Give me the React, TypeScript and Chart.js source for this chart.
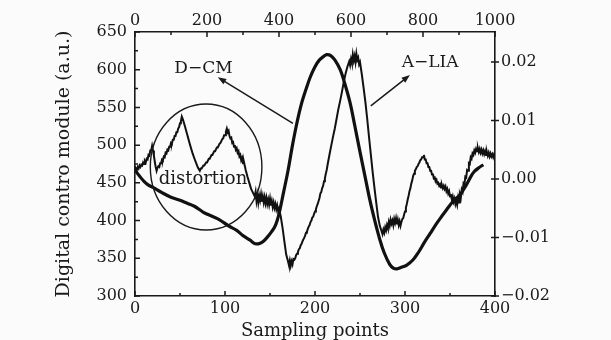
import React, { useEffect, useRef } from 'react';
import { Chart, registerables } from 'chart.js';
Chart.register(...registerables);

// D-CM (thick smooth curve), sampling points vs module value
const dcmSamples = [0, 5, 10, 15, 20, 30, 40, 50, 58, 66, 76, 85, 94, 104, 113, 120, 128, 132, 135, 139, 143, 147, 151, 155, 158, 161, 165, 170, 175, 180, 185, 190, 195, 200, 205, 210, 213, 217, 222, 228, 233, 239, 244, 250, 255, 261, 266, 272, 277, 283, 287, 291, 296, 302, 309, 315, 321, 328, 335, 341, 346, 353, 361, 368, 373, 377, 382, 387];
const dcmValues = [467, 459, 452, 447, 444, 437, 431, 427, 423, 419, 411, 406, 401, 393, 387, 380, 374, 370, 369, 370, 373, 378, 384, 391, 400, 414, 437, 466, 500, 530, 555, 574, 591, 604, 613, 618, 620, 619, 613, 600, 582, 556, 527, 491, 462, 427, 402, 375, 357, 342, 337, 336, 338, 341, 348, 358, 370, 383, 396, 406, 414, 425, 434, 447, 458, 465, 470, 474];

// A-LIA (thin noisy curve)
const liaSamples = [0, 1, 2, 3, 4, 5, 6, 7, 8, 9, 10, 11, 12, 13, 14, 15, 16, 17, 18, 19, 20, 21, 22, 23, 24, 25, 26, 27, 28, 29, 30, 31, 32, 33, 34, 35, 36, 37, 38, 39, 40, 41, 42, 43, 44, 45, 46, 47, 48, 49, 50, 51, 52, 53, 55, 58, 61, 64, 67, 70, 72, 73, 74, 76, 77, 79, 80, 82, 83, 85, 86, 88, 89, 91, 92, 94, 95, 97, 98, 99, 100, 101, 102, 103, 104, 105, 106, 107, 108, 109, 110, 111, 112, 113, 114, 115, 116, 117, 118, 119, 120, 121, 123, 125, 127, 129, 131, 133, 134, 135, 136, 137, 138, 139, 140, 141, 142, 143, 144, 145, 146, 147, 148, 149, 150, 151, 152, 153, 154, 155, 156, 157, 158, 159, 160, 162, 164, 166, 168, 170, 171, 172, 173, 174, 175, 176, 177, 178, 179, 180, 181, 182, 183, 184, 185, 186, 187, 188, 189, 190, 191, 192, 193, 194, 195, 196, 197, 198, 199, 200, 201, 202, 203, 204, 205, 206, 207, 208, 209, 210, 211, 212, 213, 214, 216, 218, 220, 222, 224, 226, 228, 230, 232, 234, 236, 238, 239, 240, 241, 242, 243, 244, 245, 246, 247, 248, 249, 250, 252, 254, 256, 258, 260, 262, 264, 266, 268, 270, 272, 274, 275, 276, 277, 278, 279, 280, 281, 282, 283, 284, 285, 286, 287, 288, 289, 290, 291, 292, 293, 294, 295, 296, 297, 298, 299, 300, 301, 302, 303, 304, 305, 306, 307, 308, 309, 310, 311, 312, 313, 314, 315, 316, 317, 318, 319, 320, 321, 322, 323, 324, 325, 326, 327, 328, 329, 330, 331, 332, 333, 334, 335, 336, 337, 338, 339, 340, 341, 342, 343, 344, 345, 346, 347, 348, 349, 350, 351, 352, 353, 354, 355, 356, 357, 358, 359, 360, 361, 362, 363, 364, 365, 366, 367, 368, 369, 370, 371, 372, 373, 374, 375, 376, 377, 378, 379, 380, 381, 382, 383, 384, 385, 386, 387, 388, 389, 390, 391, 392, 393, 394, 395, 396, 397, 398, 399, 400];
const liaValues = [465, 469, 467, 471, 469, 473, 471, 474, 473, 477, 475, 479, 477, 482, 481, 487, 486, 493, 493, 499, 493, 486, 478, 471, 466, 470, 472, 471, 476, 476, 481, 480, 485, 484, 490, 489, 494, 493, 498, 498, 503, 502, 507, 507, 512, 512, 517, 517, 522, 524, 529, 532, 538, 535, 527, 514, 501, 489, 479, 470, 466, 469, 469, 473, 473, 477, 477, 482, 482, 487, 487, 492, 492, 497, 497, 502, 503, 508, 509, 513, 513, 518, 522, 517, 519, 512, 509, 510, 503, 504, 498, 500, 494, 496, 490, 492, 485, 487, 480, 483, 476, 478, 467, 458, 450, 442, 437, 432, 438, 426, 434, 424, 433, 427, 435, 425, 432, 424, 431, 423, 430, 422, 428, 421, 429, 420, 426, 418, 424, 417, 422, 415, 420, 413, 416, 405, 390, 372, 355, 346, 341, 347, 340, 346, 342, 349, 348, 350, 354, 356, 358, 362, 363, 367, 369, 372, 375, 377, 380, 384, 385, 389, 392, 394, 398, 400, 404, 405, 409, 412, 415, 419, 422, 426, 430, 436, 438, 443, 446, 452, 456, 462, 467, 474, 487, 499, 511, 522, 535, 548, 559, 571, 584, 595, 604, 611, 606, 614, 609, 620, 612, 618, 610, 621, 613, 616, 607, 610, 594, 576, 557, 535, 511, 488, 465, 444, 424, 405, 393, 386, 382, 388, 384, 391, 387, 394, 390, 398, 393, 401, 396, 400, 394, 402, 397, 403, 395, 401, 394, 399, 393, 398, 402, 403, 408, 412, 417, 422, 428, 433, 439, 443, 449, 453, 459, 462, 466, 468, 471, 472, 475, 477, 480, 481, 484, 484, 487, 481, 481, 476, 476, 471, 471, 466, 466, 461, 462, 456, 457, 452, 454, 449, 450, 446, 448, 444, 447, 443, 446, 442, 445, 439, 442, 436, 439, 432, 435, 428, 432, 425, 429, 422, 427, 421, 430, 424, 434, 430, 441, 438, 449, 447, 458, 457, 467, 466, 476, 475, 484, 482, 489, 487, 493, 490, 495, 492, 496, 491, 495, 490, 494, 489, 493, 488, 492, 487, 491, 486, 490, 485, 489, 485, 488, 484, 488, 486];

// Axis ranges and tick labels
const bottomRange = [0, 400];
const bottomTicks = [0, 100, 200, 300, 400];
const topRange = [0, 1000];
const topTicks = [0, 200, 400, 600, 800, 1000];
const leftRange = [300, 650];
const leftTicks = [300, 350, 400, 450, 500, 550, 600, 650];
const rightRange = [-0.02, 0.02513];
const rightTicks = [-0.02, -0.01, 0, 0.01, 0.02];

// Annotation anchors (in data units: sample, module value)
const dcmLabelAt = [76, 602];
const liaLabelAt = [328, 610];
const distortionLabelAt = [75.5, 455];
const dcmArrow = [[175.5, 529], [92, 590]];
const liaArrow = [[262, 552], [305.5, 593]];
const circleCenter = [79, 471];
const circleRadius = [62, 83.5];

const FONT = "'DejaVu Serif', 'Liberation Serif', serif";
const INK = '#1a1a1a';

function drawArrow(ctx: CanvasRenderingContext2D, x1: number, y1: number, x2: number, y2: number) {
  const ang = Math.atan2(y2 - y1, x2 - x1);
  const head = 9;
  ctx.beginPath();
  ctx.moveTo(x1, y1);
  ctx.lineTo(x2 - Math.cos(ang) * head * 0.6, y2 - Math.sin(ang) * head * 0.6);
  ctx.stroke();
  ctx.beginPath();
  ctx.moveTo(x2, y2);
  ctx.lineTo(x2 - head * Math.cos(ang - 0.35), y2 - head * Math.sin(ang - 0.35));
  ctx.lineTo(x2 - head * Math.cos(ang + 0.35), y2 - head * Math.sin(ang + 0.35));
  ctx.closePath();
  ctx.fill();
}

const decorPlugin = {
  id: 'decor',
  beforeDraw(chart: any) {
    const ctx = chart.ctx;
    ctx.save();
    ctx.fillStyle = '#fbfbfb';
    ctx.fillRect(0, 0, chart.width, chart.height);
    ctx.restore();
  },
  afterDraw(chart: any) {
    const ctx: CanvasRenderingContext2D = chart.ctx;
    const { left, right, top, bottom } = chart.chartArea;
    const sx = chart.scales.x, sy = chart.scales.y, sx2 = chart.scales.x2, sy2 = chart.scales.y2;
    ctx.save();
    ctx.strokeStyle = INK;
    ctx.fillStyle = INK;
    ctx.lineWidth = 1.5;
    const majorLen = 5, minorLen = 3;
    const withMinor = (ticks: number[]) => {
      const out: [number, boolean][] = [];
      ticks.forEach((t, i) => {
        out.push([t, true]);
        if (i < ticks.length - 1) out.push([(t + ticks[i + 1]) / 2, false]);
      });
      return out;
    };
    ctx.beginPath();
    withMinor(bottomTicks).forEach(([v, maj]) => {
      const p = sx.getPixelForValue(v);
      ctx.moveTo(p, bottom); ctx.lineTo(p, bottom - (maj ? majorLen : minorLen));
    });
    withMinor(topTicks).forEach(([v, maj]) => {
      const p = sx2.getPixelForValue(v);
      ctx.moveTo(p, top); ctx.lineTo(p, top + (maj ? majorLen : minorLen));
    });
    withMinor(leftTicks).forEach(([v, maj]) => {
      const p = sy.getPixelForValue(v);
      ctx.moveTo(left, p); ctx.lineTo(left + (maj ? majorLen : minorLen), p);
    });
    rightTicks.forEach((v) => {
      const p = sy2.getPixelForValue(v);
      ctx.moveTo(right - 4, p); ctx.lineTo(right + 4, p);
    });
    ctx.stroke();

    // circle around distortion
    const cx = sx.getPixelForValue(circleCenter[0]);
    const cy = sy.getPixelForValue(circleCenter[1]);
    const rx = Math.abs(sx.getPixelForValue(circleCenter[0] + circleRadius[0]) - cx);
    const ry = Math.abs(sy.getPixelForValue(circleCenter[1] + circleRadius[1]) - cy);
    ctx.lineWidth = 1.4;
    ctx.beginPath();
    ctx.ellipse(cx, cy, rx, ry, 0, 0, Math.PI * 2);
    ctx.stroke();

    // arrows
    ctx.lineWidth = 1.5;
    drawArrow(ctx, sx.getPixelForValue(dcmArrow[0][0]), sy.getPixelForValue(dcmArrow[0][1]),
      sx.getPixelForValue(dcmArrow[1][0]), sy.getPixelForValue(dcmArrow[1][1]));
    drawArrow(ctx, sx.getPixelForValue(liaArrow[0][0]), sy.getPixelForValue(liaArrow[0][1]),
      sx.getPixelForValue(liaArrow[1][0]), sy.getPixelForValue(liaArrow[1][1]));

    // labels
    ctx.textAlign = 'center';
    ctx.textBaseline = 'middle';
    ctx.font = `17px ${FONT}`;
    ctx.fillText('D\u2212CM', sx.getPixelForValue(dcmLabelAt[0]), sy.getPixelForValue(dcmLabelAt[1]));
    ctx.fillText('A\u2212LIA', sx.getPixelForValue(liaLabelAt[0]), sy.getPixelForValue(liaLabelAt[1]));
    ctx.font = `18px ${FONT}`;
    ctx.fillText('distortion', sx.getPixelForValue(distortionLabelAt[0]), sy.getPixelForValue(distortionLabelAt[1]));
    ctx.restore();
  },
};

export default function App() {
  const ref = useRef<HTMLCanvasElement | null>(null);
  useEffect(() => {
    if (!ref.current) return;
    const tickFont = { family: FONT, size: 16 };
    const border = { display: true, color: INK, width: 1.6 };
    const grid = { display: true, drawOnChartArea: false, drawTicks: false };
    const plain = (v: any) => String(v);
    const chart = new Chart(ref.current, {
      type: 'line',
      data: {
        datasets: [
          {
            label: 'A-LIA',
            data: liaSamples.map((s, i) => ({ x: s, y: liaValues[i] })),
            borderColor: '#111',
            borderWidth: 2,
            pointRadius: 0,
            tension: 0,
            xAxisID: 'x',
            yAxisID: 'y',
          },
          {
            label: 'D-CM',
            data: dcmSamples.map((s, i) => ({ x: s, y: dcmValues[i] })),
            borderColor: '#111',
            borderWidth: 3.2,
            pointRadius: 0,
            tension: 0.35,
            xAxisID: 'x',
            yAxisID: 'y',
          },
        ],
      },
      options: {
        responsive: false,
        animation: false,
        events: [],
        layout: { padding: 0 },
        plugins: { legend: { display: false }, tooltip: { enabled: false } },
        scales: {
          x: {
            type: 'linear',
            position: 'bottom',
            min: bottomRange[0],
            max: bottomRange[1],
            afterBuildTicks: (s: any) => { s.ticks = bottomTicks.map((v) => ({ value: v })); },
            ticks: { font: tickFont, color: INK, padding: 3, maxRotation: 0, autoSkip: false, callback: plain },
            grid, border,
            title: { display: true, text: 'Sampling points', color: INK, font: { family: FONT, size: 18, lineHeight: 1 }, padding: { top: 0, bottom: 0 } },
            afterFit: (s: any) => { s.height = 44; },
          },
          x2: {
            type: 'linear',
            position: 'top',
            min: topRange[0],
            max: topRange[1],
            afterBuildTicks: (s: any) => { s.ticks = topTicks.map((v) => ({ value: v })); },
            ticks: { font: tickFont, color: INK, padding: 2, maxRotation: 0, autoSkip: false, callback: plain },
            grid, border,
            afterFit: (s: any) => { s.height = 32; },
          },
          y: {
            type: 'linear',
            position: 'left',
            min: leftRange[0],
            max: leftRange[1],
            afterBuildTicks: (s: any) => { s.ticks = leftTicks.map((v) => ({ value: v })); },
            ticks: { font: tickFont, color: INK, padding: 8, autoSkip: false, callback: plain },
            grid, border,
            title: { display: true, text: 'Digital contro module (a.u.)', color: INK, font: { family: FONT, size: 19, lineHeight: 1 }, padding: { top: 55, bottom: 0 } },
            afterFit: (s: any) => { s.width = 135; },
          },
          y2: {
            type: 'linear',
            position: 'right',
            min: rightRange[0],
            max: rightRange[1],
            afterBuildTicks: (s: any) => { s.ticks = rightTicks.map((v) => ({ value: v })); },
            ticks: {
              font: tickFont, color: INK, padding: 6, autoSkip: false,
              callback: (v: any) => (Number(v) < 0 ? '\u2212' + Math.abs(Number(v)).toFixed(2) : Number(v).toFixed(2)),
            },
            grid, border,
            afterFit: (s: any) => { s.width = 116; },
          },
        },
      },
      plugins: [decorPlugin],
    } as any);
    return () => chart.destroy();
  }, []);
  return (
    <div style={{ position: 'absolute', left: 0, top: 0, width: 611, height: 340, background: '#fbfbfb' }}>
      <canvas ref={ref} width={611} height={340} style={{ display: 'block' }} />
    </div>
  );
}
